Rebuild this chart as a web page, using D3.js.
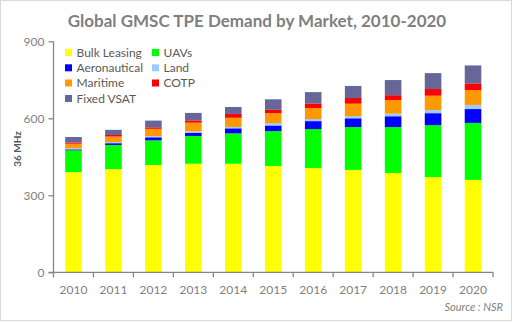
<!DOCTYPE html>
<html>
<head>
<meta charset="utf-8">
<script src="https://cdn.jsdelivr.net/npm/d3@7"></script>
<style>
  html, body { margin: 0; padding: 0; background: #fff; }
  svg { display: block; }
</style>
</head>
<body>
<svg id="chart" width="513" height="322"></svg>
<script>
// Market demand in 36 MHz transponder-equivalents, by year
const years = ["2010","2011","2012","2013","2014","2015","2016","2017","2018","2019","2020"];
const bulkLeasing = [390, 402, 418, 423, 423, 414, 406, 399, 387, 371, 360];
const uavs        = [ 85,  94,  96, 108, 118, 136, 152, 167, 179, 202, 222];
const aeronautical= [  4,   7,  12,  12,  20,  22,  31,  34,  42,  47,  54];
const land        = [  4,   4,   4,   6,   5,   9,   8,   9,  10,  12,  16];
const maritime    = [ 18,  22,  29,  34,  36,  39,  43,  48,  53,  56,  58];
const cotp        = [  5,   6,   6,   9,  15,  13,  18,  22,  19,  26,  26];
const fixedVsat   = [ 21,  20,  26,  29,  27,  41,  44,  47,  59,  62,  70];
const yTicks = [0, 300, 600, 900];

const seriesNames  = ["Bulk Leasing","UAVs","Aeronautical","Land","Maritime","COTP","Fixed VSAT"];
const seriesValues = [bulkLeasing, uavs, aeronautical, land, maritime, cotp, fixedVsat];
const seriesColors = ["#FFFF00","#00FF00","#0000FF","#99CCFF","#FF9900","#FF0000","#666699"];

const rows = years.map((y, i) => {
  const r = { year: y };
  seriesNames.forEach((s, k) => { r[s] = seriesValues[k][i]; });
  return r;
});

const svg = d3.select("#chart");
const W = 513, H = 322;
const font = "Lato, 'Open Sans', sans-serif";

// outer frame
svg.append("rect").attr("x", 0.5).attr("y", 0.5).attr("width", W - 2).attr("height", H - 2)
  .attr("fill", "#fff").attr("stroke", "#d9d9d9");

const plot = { left: 53.5, right: 493, top: 41.3, bottom: 272.3 };

const x = d3.scaleBand().domain(years).range([plot.left, plot.right])
  .paddingInner(0.585).paddingOuter(0.2925);
const y = d3.scaleLinear().domain([0, 900]).range([plot.bottom, plot.top]);

const stack = d3.stack().keys(seriesNames)(rows);

// bars
svg.append("g").selectAll("g").data(stack).join("g")
  .attr("fill", (d, i) => seriesColors[i])
  .selectAll("rect").data(d => d).join("rect")
  .attr("x", d => x(d.data.year))
  .attr("width", x.bandwidth())
  .attr("y", d => y(d[1]))
  .attr("height", d => y(d[0]) - y(d[1]));

// y axis
const yAxis = svg.append("g").attr("transform", `translate(${plot.left},0)`)
  .call(d3.axisLeft(y).tickValues(yTicks).tickSize(5).tickPadding(4).tickFormat(d3.format("d")));
yAxis.select(".domain").attr("stroke", "#868686").attr("stroke-width", 1.3)
  .attr("d", `M0,${plot.top}V${plot.bottom}`);
yAxis.selectAll(".tick line").attr("stroke", "#868686").attr("stroke-width", 1.3);
yAxis.selectAll("text").attr("fill", "#7f7f7f").style("font", `12px ${font}`);

// x axis with ticks between categories
const xAxis = svg.append("g").attr("transform", `translate(0,${plot.bottom})`)
  .call(d3.axisBottom(x).tickSize(0).tickPadding(13));
xAxis.select(".domain").attr("stroke", "#868686").attr("stroke-width", 1.3)
  .attr("d", `M${plot.left - 5},0H${plot.right}`);
xAxis.selectAll("text").attr("fill", "#7f7f7f").style("font", `12px ${font}`);
const step = x.step();
xAxis.selectAll("line.sep").data(d3.range(years.length + 1)).join("line")
  .attr("class", "sep")
  .attr("x1", i => plot.left + i * step).attr("x2", i => plot.left + i * step)
  .attr("y1", 0).attr("y2", 5)
  .attr("stroke", "#868686").attr("stroke-width", 1.3);

// y axis title
svg.append("text")
  .attr("transform", `translate(21,${149}) rotate(-90)`)
  .attr("text-anchor", "middle")
  .attr("fill", "#595959")
  .style("font", `bold 10px ${font}`)
  .text("36 MHz");

// title
svg.append("text")
  .attr("x", 257).attr("y", 27)
  .attr("text-anchor", "middle")
  .attr("fill", "#7f7f7f")
  .style("font", `bold 17px ${font}`)
  .text("Global GMSC TPE Demand by Market, 2010-2020");

// legend
const legendPos = [[65, 52.5],[152, 52.5],[65, 67.8],[152, 67.8],[65, 83],[152, 83],[65, 98.5]];
const lg = svg.append("g").selectAll("g").data(seriesNames).join("g")
  .attr("transform", (d, i) => `translate(${legendPos[i][0]},${legendPos[i][1]})`);
lg.append("rect").attr("x", 0).attr("y", -3.5).attr("width", 7).attr("height", 7)
  .attr("fill", (d, i) => seriesColors[i]);
lg.append("text").attr("x", 11.5).attr("y", 4.2)
  .attr("fill", "#595959")
  .style("font", `12px ${font}`)
  .text(d => d);

// source note
svg.append("text")
  .attr("x", 503).attr("y", 311)
  .attr("text-anchor", "end")
  .attr("fill", "#7f7f7f")
  .style("font", `italic 11px ${font}`)
  .text("Source : NSR");
</script>
</body>
</html>
